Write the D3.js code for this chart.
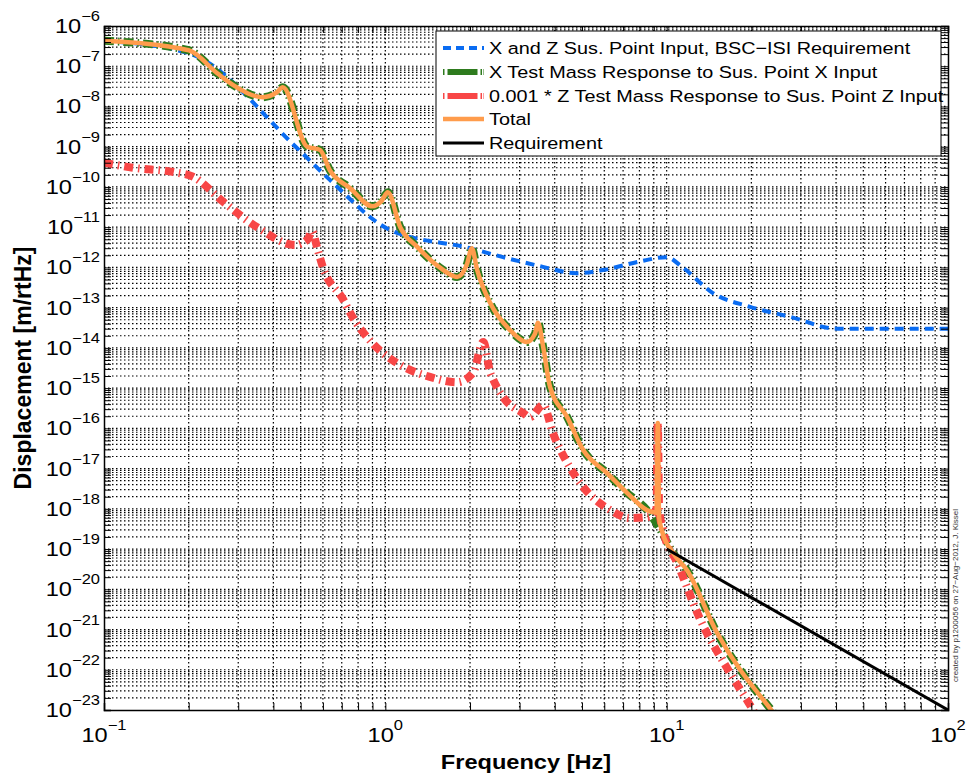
<!DOCTYPE html>
<html><head><meta charset="utf-8">
<script src="https://cdn.jsdelivr.net/npm/d3@7"></script>
<style>
body{margin:0;background:#fff}
text{font-family:"Liberation Sans",Arial,Helvetica,sans-serif;fill:#000}
</style>
</head><body>
<svg id="chart" width="969" height="778"></svg>
<script>
// ---------------- data ----------------
const blueFreq = [0.1, 0.2, 0.485, 0.635, 1.04, 2.0, 2.62, 3.5, 4.8, 6.0, 8.0, 10, 11.4, 14.6, 19.8, 27.5, 40.4, 100];
const blueVal  = [4.3e-7, 2.1e-7, 9.3e-10, 1.5e-10, 8.5e-12, 3.0e-12, 1.8e-12, 1.1e-12, 7.2e-13, 8.7e-13, 1.4e-12, 1.8e-12, 1.0e-12, 2.3e-13, 1.05e-13, 5.9e-14, 3.0e-14, 3.0e-14];

const xtmFreq = [0.1, 0.2, 0.252, 0.288, 0.367, 0.41, 0.432, 0.527, 0.586, 0.635, 0.75, 0.9, 0.97, 1.02, 1.13, 1.30, 1.56, 1.80, 1.95, 2.03, 2.12, 2.36, 2.77, 3.19, 3.40, 3.49, 3.64, 3.85, 4.43, 5.05, 6.14, 7.23, 8.51, 9.5, 10.55, 11.8, 15.1, 23.3, 26];
const xtmVal  = [4.3e-7, 2.5e-7, 6.8e-8, 3.4e-8, 1.7e-8, 2.2e-8, 3.0e-8, 1.0e-9, 8.3e-10, 2.6e-10, 9.3e-11, 3.3e-11, 4.5e-11, 7.4e-11, 1.0e-11, 3.2e-12, 1.0e-12, 5.8e-13, 1.2e-12, 3.0e-12, 8.7e-13, 1.3e-13, 2.8e-14, 1.4e-14, 2.2e-14, 4.2e-14, 1.05e-14, 1.07e-15, 1.9e-16, 2.9e-17, 7.7e-18, 2.5e-18, 9.3e-19, 3.0e-19, 7.9e-20, 3.0e-20, 8.3e-22, 1.1e-23, 4.3e-24];

const ztmFreq = [0.1, 0.127, 0.18, 0.207, 0.265, 0.35, 0.478, 0.53, 0.548, 0.575, 0.60, 0.71, 0.75, 0.90, 1.10, 1.44, 1.80, 2.05, 2.23, 2.36, 2.42, 2.62, 3.09, 3.27, 3.64, 3.94, 4.43, 5.05, 6.3, 7.41, 8.6, 9.2, 9.3, 9.4, 9.7, 10.9, 13.2, 16.8, 20.1, 23];
const ztmVal  = [4.0e-10, 3.0e-10, 2.3e-10, 1.8e-10, 4.3e-11, 1.0e-11, 3.6e-12, 5.0e-12, 8.0e-12, 2.7e-12, 1.0e-12, 1.55e-13, 7.4e-14, 1.3e-14, 4.2e-15, 1.9e-15, 1.4e-15, 2.4e-15, 1.4e-14, 2.4e-15, 1.6e-15, 6.0e-16, 2.4e-16, 1.9e-16, 3.8e-16, 7.7e-17, 1.4e-17, 3.5e-18, 9.3e-19, 5.9e-19, 6.3e-19, 1.0e-18, 1.4e-16, 1.0e-18, 3.0e-19, 4.6e-20, 1.7e-21, 8.3e-23, 1.1e-23, 2.0e-24];

const totalFreq = [0.1, 0.2, 0.252, 0.288, 0.367, 0.41, 0.432, 0.527, 0.586, 0.635, 0.75, 0.9, 0.97, 1.02, 1.13, 1.30, 1.56, 1.80, 1.95, 2.03, 2.12, 2.36, 2.77, 3.19, 3.40, 3.49, 3.64, 3.85, 4.43, 5.05, 6.14, 7.23, 8.51, 9.2, 9.3, 9.4, 9.6, 10.55, 11.8, 15.1, 23.3, 26];
const totalVal  = [4.3e-7, 2.5e-7, 6.8e-8, 3.4e-8, 1.7e-8, 2.2e-8, 3.0e-8, 1.0e-9, 8.3e-10, 2.6e-10, 9.3e-11, 3.3e-11, 4.5e-11, 7.4e-11, 1.0e-11, 3.2e-12, 1.0e-12, 5.8e-13, 1.2e-12, 3.0e-12, 8.7e-13, 1.3e-13, 2.8e-14, 1.4e-14, 2.2e-14, 4.2e-14, 1.05e-14, 1.07e-15, 1.9e-16, 2.9e-17, 7.7e-18, 2.5e-18, 9.3e-19, 8.0e-19, 1.35e-16, 6.0e-19, 3.0e-19, 7.9e-20, 3.0e-20, 8.3e-22, 1.1e-23, 4.3e-24];

const reqFreq = [10, 100];
const reqVal  = [1e-19, 1e-23];

const xMajorExps = [-1, 0, 1, 2];
const yMajorExps = [-23, -22, -21, -20, -19, -18, -17, -16, -15, -14, -13, -12, -11, -10, -9, -8, -7, -6];
const xTickLabels = ["\u22121", "0", "1", "2"];
const yTickLabels = yMajorExps.map(e => "\u2212" + Math.abs(e));

const legendLabels = [
  "X and Z Sus. Point Input, BSC\u2212ISI Requirement",
  "X Test Mass Response to Sus. Point X Input",
  "0.001 * Z Test Mass Response to Sus. Point Z Input",
  "Total",
  "Requirement"
];
const xLabel = "Frequency [Hz]";
const yLabel = "Displacement [m/rtHz]";
const creditText = "created by p1200056 on 27\u2212Aug\u22122012, J. Kissel";

// ---------------- layout ----------------
const L = 104, R = 948, T = 26, B = 710;
const SX = 1.18; // horizontal text stretch of the original
const svg = d3.select("#chart");
const x = d3.scaleLog().domain([0.1, 100]).range([L, R]);
const y = d3.scaleLog().domain([1e-23, 1e-6]).range([B, T]);

function decadeTicks(exps) {
  const out = [];
  for (let i = 0; i < exps.length; i++) {
    const base = Math.pow(10, exps[i]);
    out.push(base);
    if (i < exps.length - 1) for (let d = 2; d <= 9; d++) out.push(d * base);
  }
  return out;
}
const xTicks = decadeTicks(xMajorExps);
const yTicks = decadeTicks(yMajorExps);

svg.append("defs").append("clipPath").attr("id", "clip")
  .append("rect").attr("x", L).attr("y", T).attr("width", R - L).attr("height", B - T);

// grid
const grid = svg.append("g").attr("stroke", "#000").attr("stroke-width", 1.2)
  .attr("stroke-dasharray", "1.5,2.5").attr("fill", "none");
xTicks.filter(v => v > 0.1 && v < 100).forEach(v => {
  grid.append("line").attr("x1", x(v)).attr("x2", x(v)).attr("y1", T).attr("y2", B);
});
yTicks.filter(v => v > 1e-23 * 1.0001 && v < 1e-6 * 0.9999).forEach(v => {
  grid.append("line").attr("x1", L).attr("x2", R).attr("y1", y(v)).attr("y2", y(v));
});

// series
const plot = svg.append("g").attr("clip-path", "url(#clip)");
const lineGen = d3.line().x(d => x(d[0])).y(d => y(d[1])).curve(d3.curveMonotoneX);
const zip = (a, b) => a.map((f, i) => [f, b[i]]);

const series = [
  {f: blueFreq, v: blueVal, color: "#0a6cf2", w: 4, dash: "9,6", cap: "butt"},
  {f: xtmFreq, v: xtmVal, color: "#2e7b1e", w: 8, dash: "10,4,1.5,4", cap: "butt"},
  {f: ztmFreq, v: ztmVal, color: "#f84646", w: 8, dash: "9,5,1.5,5", cap: "butt"},
  {f: totalFreq, v: totalVal, color: "#ff9c4c", w: 4.5, dash: null, cap: "round"},
  {f: reqFreq, v: reqVal, color: "#000000", w: 3, dash: null, cap: "butt"}
];
series.forEach(s => {
  plot.append("path").datum(zip(s.f, s.v))
    .attr("fill", "none").attr("stroke", s.color).attr("stroke-width", s.w)
    .attr("stroke-dasharray", s.dash).attr("stroke-linecap", s.cap)
    .attr("stroke-linejoin", "round").attr("d", lineGen);
});

// axes (inward ticks on all sides)
const tk = 7;
svg.append("g").attr("transform", `translate(0,${B})`)
  .call(d3.axisBottom(x).tickValues(xTicks).tickSize(-tk).tickFormat(""));
svg.append("g").attr("transform", `translate(0,${T})`)
  .call(d3.axisTop(x).tickValues(xTicks).tickSize(-tk).tickFormat(""));
svg.append("g").attr("transform", `translate(${L},0)`)
  .call(d3.axisLeft(y).tickValues(yTicks).tickSize(-tk).tickFormat(""));
svg.append("g").attr("transform", `translate(${R},0)`)
  .call(d3.axisRight(y).tickValues(yTicks).tickSize(-tk).tickFormat(""));
svg.selectAll(".domain").attr("stroke", "#000").attr("stroke-width", 1.5);
svg.selectAll(".tick line").attr("stroke", "#000").attr("stroke-width", 1);

// tick labels
xMajorExps.forEach((e, i) => {
  const t = svg.append("text").attr("text-anchor", "middle")
    .attr("transform", `translate(${x(Math.pow(10, e))},742) scale(${SX},1)`)
    .attr("font-size", 20);
  t.append("tspan").text("10");
  t.append("tspan").attr("font-size", 14).attr("dy", -12).text(xTickLabels[i]);
});
yMajorExps.forEach((e, i) => {
  const t = svg.append("text").attr("text-anchor", "end")
    .attr("transform", `translate(${L - 4},${y(Math.pow(10, e)) + 7}) scale(${SX},1)`)
    .attr("font-size", 20);
  t.append("tspan").text("10");
  t.append("tspan").attr("font-size", 14).attr("dy", -12).text(yTickLabels[i]);
});

// axis labels
svg.append("text").attr("text-anchor", "middle").attr("font-weight", "bold").attr("font-size", 20)
  .attr("transform", `translate(${(L + R) / 2},769) scale(${SX},1)`).text(xLabel);
svg.append("text").attr("text-anchor", "middle").attr("font-weight", "bold").attr("font-size", 23)
  .attr("transform", `translate(31,${(T + B) / 2}) rotate(-90)`).text(yLabel);

// credit text
svg.append("text").attr("font-size", 8).attr("text-anchor", "start").style("fill", "#333")
  .attr("transform", `translate(958,682) rotate(-90)`).text(creditText);

// legend
const lg = svg.append("g");
const lgX0 = 436, lgY0 = 31, lgX1 = 941, lgY1 = 156;
lg.append("rect").attr("x", lgX0).attr("y", lgY0).attr("width", lgX1 - lgX0).attr("height", lgY1 - lgY0)
  .attr("fill", "#fff").attr("stroke", "#000").attr("stroke-width", 1);
const rowY = [48, 72, 96, 119, 143];
series.forEach((s, i) => {
  lg.append("line").attr("x1", 443).attr("x2", 484).attr("y1", rowY[i]).attr("y2", rowY[i])
    .attr("stroke", s.color).attr("stroke-width", Math.min(s.w, 6))
    .attr("stroke-dasharray", s.dash ? (i === 0 ? "8,5" : "1.5,3,30,3,1.5") : null);
  lg.append("text").attr("font-size", 16.8)
    .attr("transform", `translate(489,${rowY[i] + 6}) scale(${SX},1)`).text(legendLabels[i]);
});
</script>
</body></html>
